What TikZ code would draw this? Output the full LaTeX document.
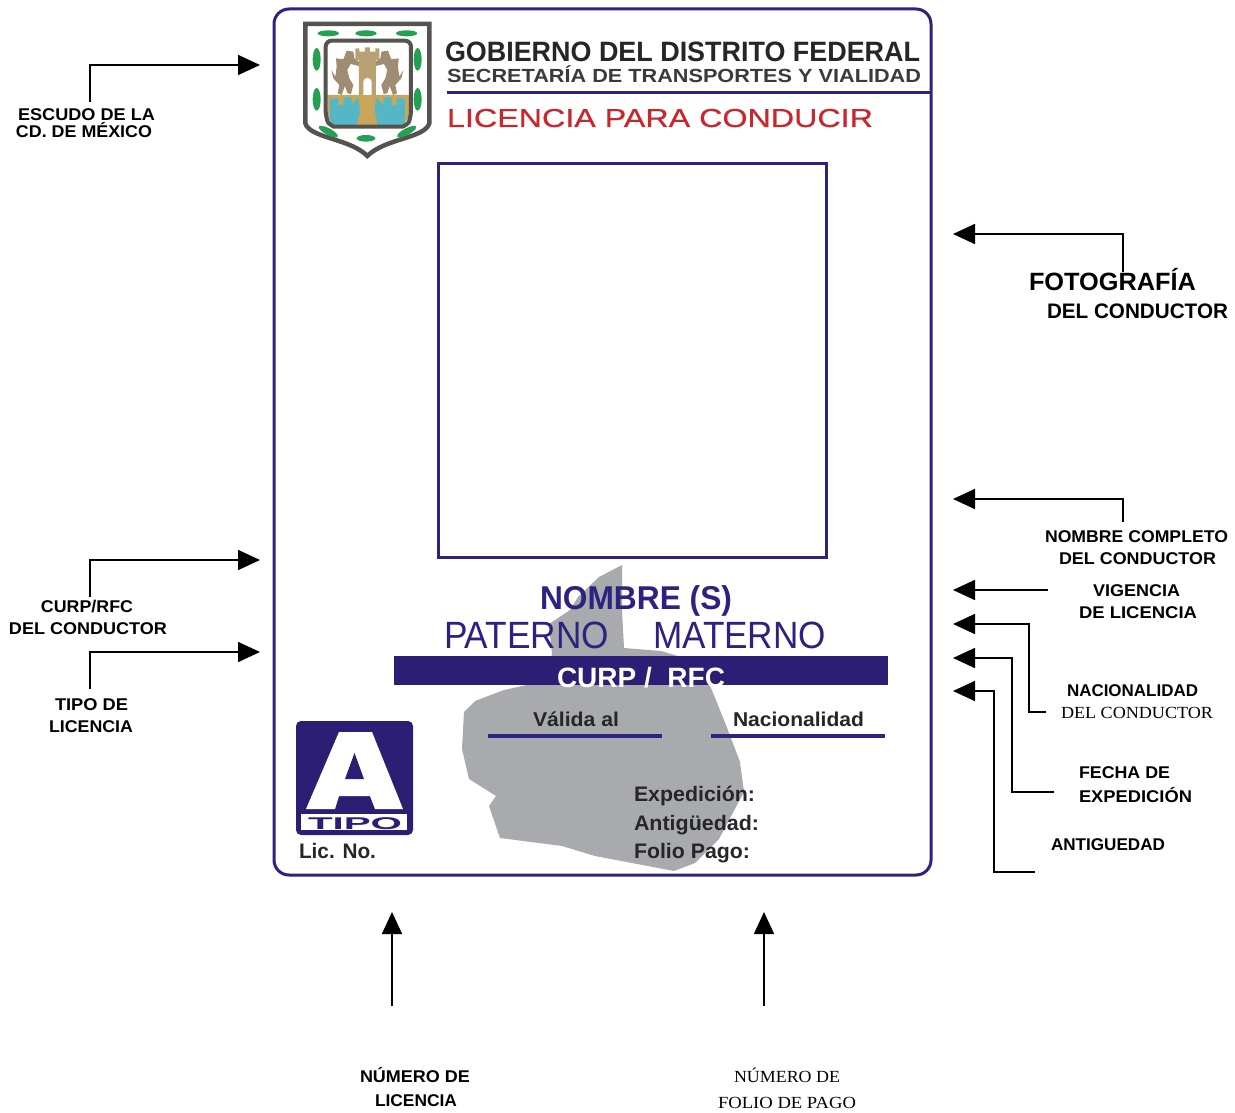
\documentclass[tikz,border=0pt]{standalone}
\usepackage{fontspec}
\setmainfont{Liberation Sans}
\newfontfamily\serifface{Liberation Serif}
\newfontfamily\medface[FakeBold=0.5]{Liberation Sans}
\usetikzlibrary{arrows.meta}
\definecolor{cardblue}{HTML}{2E2280}
\definecolor{barblue}{HTML}{2D1E75}
\definecolor{mapgrey}{HTML}{A9AAAD}
\definecolor{shieldgrey}{HTML}{55534F}
\definecolor{crestgreen}{HTML}{23A052}
\definecolor{cresttan}{HTML}{B9A271}
\definecolor{crestsand}{HTML}{C9A65A}
\definecolor{crestblue}{HTML}{55B6C6}
\definecolor{lionbrown}{HTML}{A08C72}
\definecolor{titlered}{HTML}{C8282D}
\definecolor{inkdark}{HTML}{26262A}
\newcommand{\fw}[2]{\resizebox{#1pt}{\height}{#2}}
\newcommand{\fs}[1]{\fontsize{#1}{#1}\selectfont}
\tikzset{
  txt/.style={anchor=base west,inner sep=0pt,outer sep=0pt},
  lab/.style={txt,font=\fs{17}\bfseries,text=black},
  serlab/.style={txt,font=\fs{17}\serifface,text=black},
  conn/.style={draw=black,line width=1.7pt},
  arr/.style={conn,-{Triangle[length=22pt,width=20pt]}},
  cardline/.style={draw=cardblue,line width=3pt},
  green mark/.style={fill=crestgreen,draw=none},
}
\begin{document}
\begin{tikzpicture}[x=1pt,y=-1pt]
\useasboundingbox (0,0) rectangle (1235,1113);
\fill[white] (0,0) rectangle (1235,1113);
% map
\fill[mapgrey] (622,565) -- (599,577) -- (578,597) -- (570,610) -- (549,624) -- (552,654) -- (545,681) -- (504,690) -- (475,701) -- (464,712) -- (462,749) -- (469,779) -- (496,796) -- (489,806) -- (500,838) -- (562,846) -- (595,856) -- (632,863) -- (674,871) -- (695,863) -- (719,839) -- (744,792) -- (740,762) -- (726,725) -- (711,688) -- (695,661) -- (661,651) -- (624,648) -- (622,610) -- cycle;
% card
\node[draw=cardblue,line width=3pt,rounded corners=15pt,minimum width=657pt,minimum height=866pt,anchor=north west,inner sep=0pt,outer sep=0pt] (card) at (274,9) {};
\node[draw=cardblue,line width=3pt,minimum width=388pt,minimum height=393pt,anchor=north west,inner sep=0pt,outer sep=0pt] (photo) at (438,164) {};
% crest
\begin{scope}[shift={(290,10)},x=0.3333pt,y=-0.3333pt]
  \draw[shieldgrey,line width=4.5pt,fill=white] (46,42) -- (418,42) -- (418,340) .. controls (405,385) and (285,385) .. (232,438) .. controls (180,385) and (60,385) .. (46,340) -- cycle;
  \fill[white] (110,95) -- (360,95) -- (360,350) -- (110,350) -- cycle;
  \fill[crestsand] (112,255) -- (358,255) -- (358,310) .. controls (355,335) and (340,345) .. (320,345) -- (150,345) .. controls (130,345) and (115,335) .. (112,310) -- cycle;
  \fill[crestblue] (120,345) -- (120,265) -- (145,265) -- (145,285) -- (160,285) -- (160,262) -- (185,262) -- (185,285) -- (205,262) -- (215,345) -- cycle;
  \fill[crestblue] (345,345) -- (345,265) -- (320,265) -- (320,285) -- (305,285) -- (305,262) -- (280,262) -- (280,285) -- (258,262) -- (250,345) -- cycle;
  \fill[crestsand] (225,255) -- (245,255) -- (262,345) -- (200,345) -- cycle;
  \fill[cresttan] (196,115) -- (208,115) -- (208,125) -- (225,125) -- (225,112) -- (240,112) -- (240,125) -- (256,125) -- (256,115) -- (268,115) -- (268,150) -- (258,150) -- (258,255) -- (207,255) -- (207,150) -- (196,150) -- cycle;
  \fill[white] (220,255) -- (220,215) .. controls (222,200) and (243,200) .. (245,215) -- (245,255) -- cycle;
  \foreach \s/\o in {1/0,-1/464}{
    \begin{scope}[xshift=\o*0.3333pt,xscale=\s]
    \fill[lionbrown] (170,122) -- (190,125) -- (193,145) -- (207,155) -- (207,168) -- (182,162) -- (172,180) -- (178,205) -- (190,225) -- (183,252) -- (172,250) -- (165,228) -- (155,255) -- (143,250) -- (148,225) -- (130,205) -- (124,180) -- (136,200) -- (140,170) -- (138,145) -- (160,148) -- cycle;
    \end{scope}
  }
  \draw[shieldgrey,line width=4pt,rounded corners=6pt] (107,92) -- (363,92) -- (363,320) .. controls (355,340) and (340,350) .. (320,350) -- (150,350) .. controls (130,350) and (115,340) .. (107,320) -- cycle;
  \foreach \cx/\cy/\rx/\ry/\rot in {115/70/32/9/0,228/70/32/9/0,350/70/32/9/0,80/148/12/34/0,383/148/12/34/0,80/268/12/34/0,383/268/12/34/0,115/365/32/10/28,228/385/28/10/0,350/365/32/10/-28}{
    \fill[green mark,rotate around={-\rot:(\cx,\cy)}] (\cx,\cy) ellipse [x radius=\rx,y radius=\ry];
  }
\end{scope}
% header
\node[txt,font=\fs{28}\bfseries,text=inkdark] (gob) at (445,62) {\fw{475}{GOBIERNO DEL DISTRITO FEDERAL}};
\node[txt,font=\fs{19}\bfseries,text=shieldgrey!70!black] (sec) at (447,83) {\fw{474}{SECRETARÍA DE TRANSPORTES Y VIALIDAD}};
\draw[cardline] (447,93) -- (931,93);
\node[txt,font=\fs{26}\medface,text=titlered] (lic) at (447,127) {\fw{426}{LICENCIA PARA CONDUCIR}};
% name block
\node[txt,font=\fs{33}\bfseries,text=cardblue] (nom) at (540,609) {\fw{192}{NOMBRE (S)}};
\node[txt,font=\fs{38},text=cardblue] (pat) at (444,648) {\fw{165}{PATERNO}};
\node[txt,font=\fs{38},text=cardblue] (mat) at (653,648) {\fw{173}{MATERNO}};
\fill[barblue] (394,656) rectangle (888,685);
\node[txt,font=\fs{28}\bfseries,text=white] (curp) at (557,687) {\fw{168}{CURP /\ \ RFC}};
\node[txt,font=\fs{20}\bfseries,text=inkdark] (val) at (533,726) {\fw{86}{Válida al}};
\node[txt,font=\fs{20}\bfseries,text=inkdark] (nac) at (733,726) {\fw{131}{Nacionalidad}};
\draw[draw=cardblue,line width=3.5pt] (488,736) -- (662,736);
\draw[draw=cardblue,line width=3.5pt] (711,736) -- (885,736);
\node[txt,font=\fs{21}\bfseries,text=inkdark] (exp) at (634,801) {\fw{121}{Expedición:}};
\node[txt,font=\fs{21}\bfseries,text=inkdark] (ant) at (634,830) {\fw{125}{Antigüedad:}};
\node[txt,font=\fs{21}\bfseries,text=inkdark] (fol) at (634,858) {\fw{116}{Folio Pago:}};
% type badge
\fill[barblue,rounded corners=5pt] (296,721) rectangle (413,835);
\fill[white] (339,732) -- (372,732) -- (403,809) -- (375,809) -- (370,796) -- (339,796) -- (335,809) -- (306,809) -- cycle;
\fill[barblue] (354.5,753) -- (364,779) -- (345,779) -- cycle;
\fill[white] (301,814) rectangle (407,830);
\node[txt,font=\fs{17}\bfseries,text=barblue] (tipo) at (308,829) {\fw{94}{TIPO}};
\node[txt,font=\fs{21}\bfseries,text=inkdark] (licno) at (299,858) {\fw{77}{Lic. No.}};
% labels
\node[lab] (l1a) at (18,121) {\fw{137}{ESCUDO DE LA}};
\node[lab] (l1b) at (16,138) {\fw{136}{CD. DE MÉXICO}};
\node[txt,font=\fs{25}\bfseries] (l2a) at (1029,290) {\fw{167}{FOTOGRAFÍA}};
\node[txt,font=\fs{21}\bfseries] (l2b) at (1047,318) {\fw{181}{DEL CONDUCTOR}};
\node[lab] (l3a) at (1045,542) {\fw{183}{NOMBRE COMPLETO}};
\node[lab] (l3b) at (1059,564) {\fw{157}{DEL CONDUCTOR}};
\node[lab] (l4a) at (1093,596) {\fw{87}{VIGENCIA}};
\node[lab] (l4b) at (1079,618) {\fw{118}{DE LICENCIA}};
\node[lab] (l5a) at (1067,696) {\fw{131}{NACIONALIDAD}};
\node[serlab] (l5b) at (1061,718) {\fw{152}{DEL CONDUCTOR}};
\node[lab] (l6a) at (1079,778) {\fw{91}{FECHA DE}};
\node[lab] (l6b) at (1079,802) {\fw{113}{EXPEDICIÓN}};
\node[lab] (l7) at (1051,850) {\fw{114}{ANTIGUEDAD}};
\node[lab] (l8a) at (41,612) {\fw{92}{CURP/RFC}};
\node[lab] (l8b) at (9,634) {\fw{158}{DEL CONDUCTOR}};
\node[lab] (l9a) at (55,710) {\fw{73}{TIPO DE}};
\node[lab] (l9b) at (49,732) {\fw{84}{LICENCIA}};
\node[lab] (l10a) at (360,1082) {\fw{110}{NÚMERO DE}};
\node[lab] (l10b) at (375,1106) {\fw{82}{LICENCIA}};
\node[serlab] (l11a) at (734,1082) {\fw{106}{NÚMERO DE}};
\node[serlab] (l11b) at (718,1108) {\fw{138}{FOLIO DE PAGO}};
% connector ends
\coordinate (a1s) at (90,102);    \coordinate (a1t) at (260,65);
\coordinate (a2s) at (1123,272);  \coordinate (a2t) at (953,234);
\coordinate (a3s) at (1123,522);  \coordinate (a3t) at (953,499);
\coordinate (a4s) at (1048,590);  \coordinate (a4t) at (953,590);
\coordinate (a5s) at (1046,712);  \coordinate (a5m) at (1029,712); \coordinate (a5t) at (953,624);
\coordinate (a6s) at (1054,792);  \coordinate (a6m) at (1012,792); \coordinate (a6t) at (953,658);
\coordinate (a7s) at (1035,872);  \coordinate (a7m) at (994,872);  \coordinate (a7t) at (953,691);
\coordinate (a8s) at (90,597);    \coordinate (a8t) at (260,560);
\coordinate (a9s) at (90,689);    \coordinate (a9t) at (260,652);
\coordinate (a10s) at (392,1006); \coordinate (a10t) at (392,912);
\coordinate (a11s) at (764,1006); \coordinate (a11t) at (764,912);
\draw[arr] (a1s) |- (a1t);
\draw[arr] (a2s) |- (a2t);
\draw[arr] (a3s) |- (a3t);
\draw[arr] (a4s) -- (a4t);
\draw[arr] (a5s) -- (a5m) |- (a5t);
\draw[arr] (a6s) -- (a6m) |- (a6t);
\draw[arr] (a7s) -- (a7m) |- (a7t);
\draw[arr] (a8s) |- (a8t);
\draw[arr] (a9s) |- (a9t);
\draw[arr] (a10s) -- (a10t);
\draw[arr] (a11s) -- (a11t);
\end{tikzpicture}
\end{document}
